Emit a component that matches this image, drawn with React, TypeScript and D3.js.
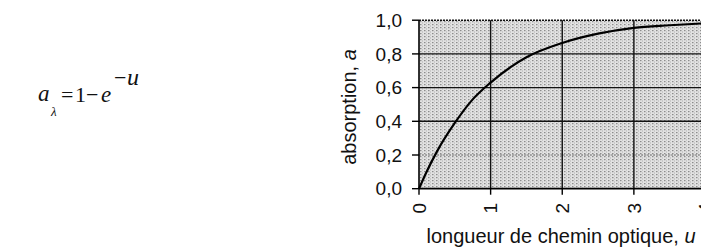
import React, { useEffect, useRef } from 'react'
import * as d3 from 'd3'

// values
const uValues = [0, 0.1, 0.25, 0.5, 0.75, 1, 1.5, 2, 2.5, 3, 3.5, 4]
const aValues = [0, 0.095, 0.22, 0.39, 0.53, 0.63, 0.78, 0.865, 0.92, 0.955, 0.97, 0.982]
const xTicks = [0, 1, 2, 3, 4]
const yTicks = [0, 0.2, 0.4, 0.6, 0.8, 1]
const yTickLabels = ['0,0', '0,2', '0,4', '0,6', '0,8', '1,0']

const W = 701
const H = 250

export default function App() {
    const ref = useRef<SVGSVGElement>(null)

    useEffect(() => {
        const svg = d3.select(ref.current)
        svg.selectAll('*').remove()

        const x = d3.scaleLinear().domain([0, 4]).range([419, 705.5])
        const y = d3.scaleLinear().domain([0, 1]).range([188.7, 20.2])

        const defs = svg.append('defs')
        const pat = defs.append('pattern')
            .attr('id', 'dots')
            .attr('width', 4)
            .attr('height', 3)
            .attr('patternUnits', 'userSpaceOnUse')
        pat.append('rect').attr('width', 4).attr('height', 3).attr('fill', '#e2e2e2')
        pat.append('rect').attr('x', 0).attr('y', 0).attr('width', 1.5).attr('height', 1.2).attr('fill', '#8c8c8c')
        pat.append('rect').attr('x', 2).attr('y', 1.5).attr('width', 1).attr('height', 1).attr('fill', '#b0b0b0')

        // plot background
        svg.append('rect')
            .attr('x', x(0))
            .attr('y', y(1))
            .attr('width', x(4) - x(0))
            .attr('height', y(0) - y(1))
            .attr('fill', 'url(#dots)')

        // gridlines
        svg.append('g')
            .selectAll('line')
            .data(yTicks.slice(1))
            .join('line')
            .attr('x1', x(0)).attr('x2', x(4))
            .attr('y1', d => y(d)).attr('y2', d => y(d))
            .attr('stroke', d => (d === 0.2 ? '#777' : '#111'))
            .attr('stroke-width', d => (d === 0.2 ? 1 : 1.4))
            .attr('stroke-dasharray', d => (d === 0.2 || d === 1 ? '2,1' : null))

        svg.append('g')
            .selectAll('line')
            .data(xTicks.slice(1))
            .join('line')
            .attr('x1', d => x(d)).attr('x2', d => x(d))
            .attr('y1', y(0)).attr('y2', y(1))
            .attr('stroke', '#111')
            .attr('stroke-width', 1.4)

        // axes
        svg.append('line')
            .attr('x1', x(0)).attr('x2', x(0))
            .attr('y1', y(0)).attr('y2', y(1))
            .attr('stroke', '#000').attr('stroke-width', 1.6)
        svg.append('line')
            .attr('x1', x(0)).attr('x2', x(4))
            .attr('y1', y(0)).attr('y2', y(0))
            .attr('stroke', '#000').attr('stroke-width', 1.8)

        // y ticks
        const yt = svg.append('g')
        yt.selectAll('line')
            .data(yTicks)
            .join('line')
            .attr('x1', x(0) - 7).attr('x2', x(0))
            .attr('y1', d => y(d)).attr('y2', d => y(d))
            .attr('stroke', '#000').attr('stroke-width', 1.4)
        yt.selectAll('text')
            .data(yTicks)
            .join('text')
            .attr('x', 402)
            .attr('y', d => y(d))
            .attr('dy', '0.35em')
            .attr('text-anchor', 'end')
            .attr('font-family', 'Arial, "Liberation Sans", sans-serif')
            .attr('font-size', 19)
            .attr('fill', '#111')
            .text((d, i) => yTickLabels[i])

        // x ticks
        const xt = svg.append('g')
        xt.selectAll('line')
            .data(xTicks)
            .join('line')
            .attr('x1', d => x(d)).attr('x2', d => x(d))
            .attr('y1', y(0)).attr('y2', y(0) + 6)
            .attr('stroke', '#000').attr('stroke-width', 1.4)
        xt.selectAll('text')
            .data(xTicks)
            .join('text')
            .attr('transform', d => `translate(${x(d)},203) rotate(-90)`)
            .attr('dy', '0.35em')
            .attr('text-anchor', 'end')
            .attr('font-family', 'Arial, "Liberation Sans", sans-serif')
            .attr('font-size', 19)
            .attr('fill', '#111')
            .text(d => String(d))

        // curve
        const line = d3.line<number>()
            .x((d, i) => x(uValues[i]))
            .y(d => y(d))
            .curve(d3.curveMonotoneX)
        svg.append('path')
            .attr('d', line(aValues))
            .attr('fill', 'none')
            .attr('stroke', '#000')
            .attr('stroke-width', 2.2)

        // axis titles
        const yTitle = svg.append('text')
            .attr('transform', 'translate(356,107) rotate(-90)')
            .attr('text-anchor', 'middle')
            .attr('font-family', 'Arial, "Liberation Sans", sans-serif')
            .attr('font-size', 20)
            .attr('fill', '#111')
        yTitle.append('tspan').text('absorption, ')
        yTitle.append('tspan').attr('font-style', 'italic').text('a')

        const xTitle = svg.append('text')
            .attr('x', 561)
            .attr('y', 243)
            .attr('text-anchor', 'middle')
            .attr('font-family', 'Arial, "Liberation Sans", sans-serif')
            .attr('font-size', 20)
            .attr('fill', '#111')
        xTitle.append('tspan').text('longueur de chemin optique, ')
        xTitle.append('tspan').attr('font-style', 'italic').text('u')

        // formula
        const f = svg.append('g')
            .attr('font-family', '"Liberation Serif", "Times New Roman", serif')
            .attr('fill', '#111')
        f.append('text').attr('x', 38).attr('y', 101).attr('font-size', 23).attr('font-style', 'italic').text('a')
        f.append('text').attr('x', 51).attr('y', 116).attr('font-size', 13).attr('font-style', 'italic').text('λ')
        f.append('text').attr('x', 61).attr('y', 102).attr('font-size', 22).text('=')
        f.append('text').attr('x', 75).attr('y', 102).attr('font-size', 22).text('1')
        f.append('text').attr('x', 86).attr('y', 102).attr('font-size', 22).text('−')
        f.append('text').attr('x', 101).attr('y', 102).attr('font-size', 23).attr('font-style', 'italic').text('e')
        f.append('text').attr('x', 114).attr('y', 85).attr('font-size', 22).text('−')
        f.append('text').attr('x', 127).attr('y', 85).attr('font-size', 24).attr('font-style', 'italic').text('u')
    }, [])

    return (
        <div style={{ position: 'absolute', left: 0, top: 0 }}>
            <svg ref={ref} width={W} height={H} style={{ display: 'block', background: '#fff' }} />
        </div>
    )
}
